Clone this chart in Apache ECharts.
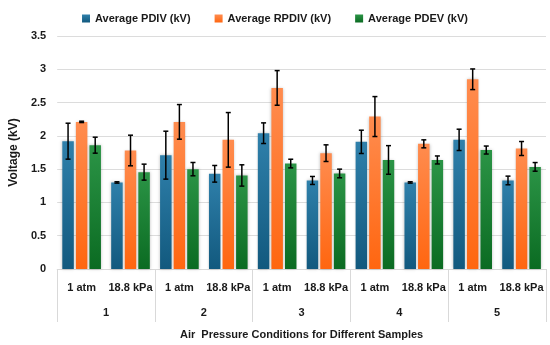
<!DOCTYPE html>
<html>
<head>
<meta charset="utf-8">
<script src="https://cdn.jsdelivr.net/npm/echarts@6/dist/echarts.min.js"></script>
<style>html,body{margin:0;padding:0;background:#fff}#c{width:550px;height:345px}</style>
</head>
<body>
<div id="c"></div>
<script>
const categories = ['1 atm','18.8 kPa','1 atm','18.8 kPa','1 atm','18.8 kPa','1 atm','18.8 kPa','1 atm','18.8 kPa'];
const samples = ['1','2','3','4','5'];
const seriesNames = ['Average PDIV (kV)','Average RPDIV (kV)','Average PDEV (kV)'];
const pdiv     = [1.92,1.30,1.71,1.43,2.04,1.33,1.91,1.30,1.94,1.33];
const pdivErr  = [0.27,0.01,0.36,0.125,0.155,0.06,0.175,0.01,0.16,0.065];
const rpdiv    = [2.21,1.78,2.21,1.94,2.72,1.74,2.29,1.88,2.85,1.81];
const rpdivErr = [0.01,0.23,0.26,0.41,0.26,0.125,0.3,0.06,0.155,0.105];
const pdev     = [1.86,1.455,1.50,1.405,1.584,1.435,1.638,1.638,1.787,1.534];
const pdevErr  = [0.12,0.12,0.10,0.16,0.065,0.065,0.215,0.06,0.06,0.065];
const yTicks = {min:0, max:3.5, interval:0.5};

const FONT = 'Liberation Sans';
const BAR_W = 11.5, GAP = 0.18;
const colors = [
  ['#2f80ab','#12597e'],
  ['#ff8c4f','#ff6610'],
  ['#2b9446','#0b6b22']
];
const values = [pdiv, rpdiv, pdev];
const errs = [pdivErr, rpdivErr, pdevErr];

const chart = echarts.init(document.getElementById('c'));
const series = [];
values.forEach((vals, k) => {
  series.push({
    name: seriesNames[k], type: 'bar', xAxisIndex: 0, yAxisIndex: 0,
    barWidth: BAR_W, barGap: (GAP*100)+'%',
    itemStyle: {
      color: new echarts.graphic.LinearGradient(0,0,0,1,[{offset:0,color:colors[k][0]},{offset:1,color:colors[k][1]}]),
      shadowColor:'rgba(0,0,0,0.25)', shadowBlur:3
    },
    data: vals
  });
});
values.forEach((vals, k) => {
  series.push({
    type: 'custom', xAxisIndex: 0, yAxisIndex: 0, z: 10, silent: true,
    renderItem: function(params, api){
      const i = api.value(0);
      const off = (k-1)*BAR_W*(1+GAP);
      const lo = api.coord([i, api.value(1)]);
      const hi = api.coord([i, api.value(2)]);
      const x = lo[0] + off;
      const cap = 2.5;
      const st = {stroke:'#000', lineWidth:1.5};
      return {type:'group', children:[
        {type:'line', shape:{x1:x,y1:lo[1],x2:x,y2:hi[1]}, style:st},
        {type:'line', shape:{x1:x-cap,y1:lo[1],x2:x+cap,y2:lo[1]}, style:st},
        {type:'line', shape:{x1:x-cap,y1:hi[1],x2:x+cap,y2:hi[1]}, style:st}
      ]};
    },
    data: vals.map((v,i)=>[i, v-errs[k][i], v+errs[k][i]])
  });
});

const txt = {fontFamily:FONT, fontWeight:'bold', fontSize:11, color:'#1a1a1a'};
chart.setOption({
  animation:false,
  textStyle:{fontFamily:FONT},
  legend:{
    data: seriesNames, top: 8, left: 'center', icon: 'rect', itemWidth: 8, itemHeight: 8, itemGap: 24,
    textStyle: txt
  },
  grid:{left:50, right:4, top:36, bottom:72},
  xAxis:[
    {type:'category', data: categories, position:'bottom',
     axisLine:{show:true, lineStyle:{color:'#d9d9d9'}}, axisTick:{show:false},
     axisLabel:Object.assign({interval:0, margin:13}, txt)},
    {type:'category', data: samples, position:'bottom', gridIndex:0,
     axisLine:{show:false}, axisTick:{show:true, length:53, lineStyle:{color:'#d9d9d9'}},
     axisLabel:Object.assign({interval:0, margin:38}, txt),
     name:'Air  Pressure Conditions for Different Samples', nameLocation:'middle', nameGap:60,
     nameTextStyle: txt}
  ],
  yAxis:{type:'value', min:yTicks.min, max:yTicks.max, interval:yTicks.interval,
    axisLine:{show:false}, axisTick:{show:false},
    splitLine:{lineStyle:{color:'#dcdcdc'}},
    axisLabel:Object.assign({margin:11}, txt),
    name:'Voltage (kV)', nameLocation:'middle', nameGap:35, nameRotate:90,
    nameTextStyle:Object.assign({}, txt, {fontSize:12})
  },
  series: series
});
</script>
</body>
</html>
